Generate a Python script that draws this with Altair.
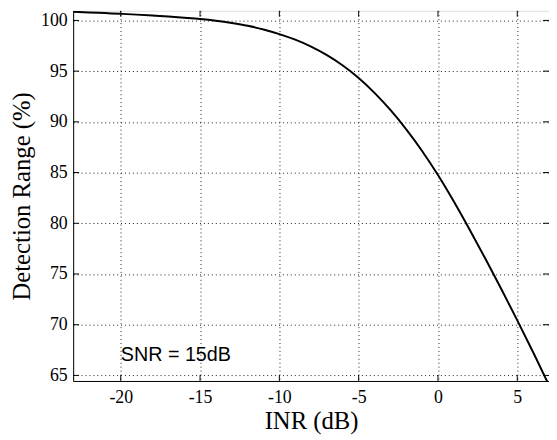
import altair as alt
import pandas as pd

inr_db = [-23, -22, -21, -20, -19, -18, -17, -16, -15, -14, -13, -12, -11, -10, -9, -8,
          -7, -6, -5, -4, -3, -2, -1, 0, 1, 2, 3, 4, 5, 6, 7]
det_range = [100.85, 100.79, 100.72, 100.65, 100.57, 100.48, 100.38, 100.26, 100.13, 99.96,
             99.74, 99.47, 99.11, 98.65, 98.10, 97.42, 96.58, 95.56, 94.33, 92.86, 91.17,
             89.26, 87.13, 84.75, 82.14, 79.36, 76.47, 73.49, 70.43, 67.28, 64.03]
x_ticks = [-20, -15, -10, -5, 0, 5]
y_ticks = [65, 70, 75, 80, 85, 90, 95, 100]
annotation = "SNR = 15dB"

W, H = 482, 375
X_DOMAIN = [-23, 7]
Y_DOMAIN = [64.45, 100.95]

curve_df = pd.DataFrame({"x": inr_db, "y": det_range})
xt_df = pd.DataFrame({"t": x_ticks})
yt_df = pd.DataFrame({"t": y_ticks})
txt_df = pd.DataFrame({"x": [-20], "y": [66.4], "label": [annotation]})

xs = alt.Scale(domain=X_DOMAIN, nice=False, zero=False)
ys = alt.Scale(domain=Y_DOMAIN, nice=False, zero=False)

label_expr = "datum.value < 0 ? '-' + abs(datum.value) : '' + datum.value"
SERIF = "Liberation Serif, Times New Roman, serif"

x_axis = alt.Axis(values=x_ticks, title="INR (dB)", labelExpr=label_expr,
                  labelFont=SERIF, labelFontSize=18, titleFont=SERIF, titleFontSize=25,
                  labelPadding=8, titlePadding=2, labelFlush=False)
y_axis = alt.Axis(values=y_ticks, title="Detection Range (%)", labelExpr=label_expr,
                  labelFont=SERIF, labelFontSize=18, titleFont=SERIF, titleFontSize=25,
                  labelPadding=6, titlePadding=6, labelFlush=False)

curve = alt.Chart(curve_df).mark_line(color="black", strokeWidth=2, interpolate="monotone", clip=True).encode(
    x=alt.X("x:Q", scale=xs, axis=x_axis),
    y=alt.Y("y:Q", scale=ys, axis=y_axis),
)

xt_bottom = alt.Chart(xt_df).mark_rule(color="black", strokeWidth=1).encode(
    x=alt.X("t:Q", scale=xs, axis=x_axis), y=alt.value(H), y2=alt.value(H - 6))
xt_top = alt.Chart(xt_df).mark_rule(color="black", strokeWidth=1).encode(
    x=alt.X("t:Q", scale=xs, axis=x_axis), y=alt.value(0), y2=alt.value(6))
yt_left = alt.Chart(yt_df).mark_rule(color="black", strokeWidth=1).encode(
    y=alt.Y("t:Q", scale=ys, axis=y_axis), x=alt.value(0), x2=alt.value(6))
yt_right = alt.Chart(yt_df).mark_rule(color="black", strokeWidth=1).encode(
    y=alt.Y("t:Q", scale=ys, axis=y_axis), x=alt.value(W - 6), x2=alt.value(W))

text = alt.Chart(txt_df).mark_text(align="left", baseline="alphabetic", font="Liberation Sans",
                                   fontSize=20, color="black").encode(
    x=alt.X("x:Q", scale=xs, axis=x_axis), y=alt.Y("y:Q", scale=ys, axis=y_axis), text="label:N")

chart = alt.layer(curve, xt_bottom, xt_top, yt_left, yt_right, text).properties(
    width=W, height=H,
    autosize=alt.AutoSizeParams(type="none"),
    padding={"left": 66, "top": 0, "right": 0, "bottom": 60},
).configure_view(stroke="black", strokeWidth=1).configure(background="white").configure_axis(
    grid=True, gridDash=[1, 3], gridColor="#222", gridWidth=1, tickSize=0,
    labelFont=SERIF, labelFontSize=18, labelColor="black",
    titleFont=SERIF, titleFontSize=25, titleFontWeight="normal",
    titleColor="black", domainColor="black",
)

chart.save("out.html", embed_options={"renderer": "svg", "actions": False})
